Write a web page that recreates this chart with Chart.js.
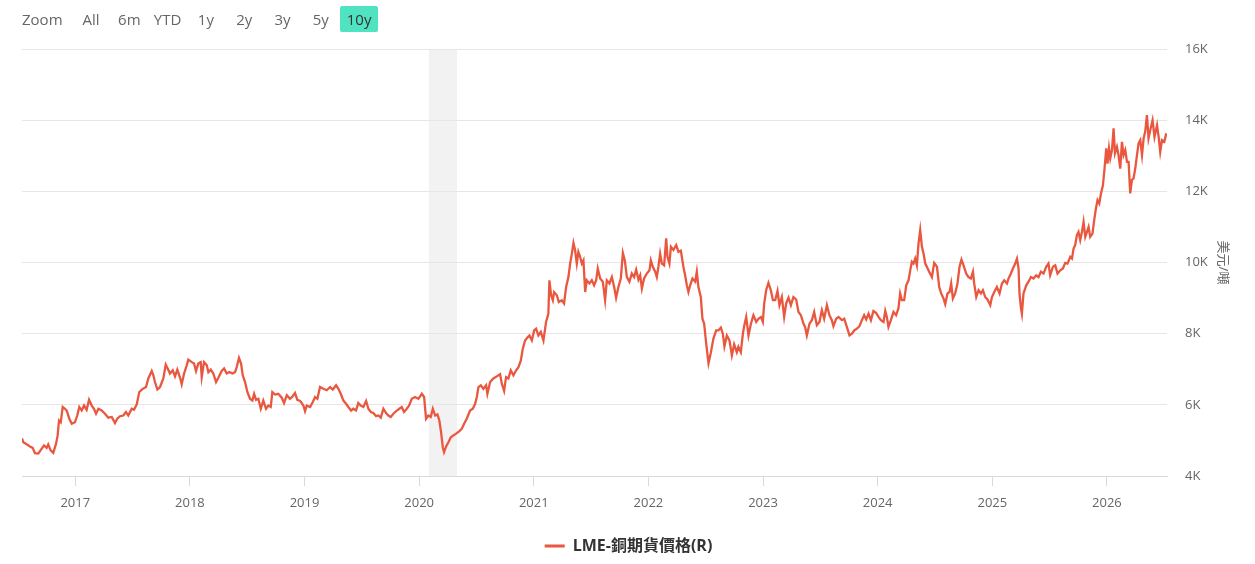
<!DOCTYPE html>
<html lang="zh-Hant">
<head>
<meta charset="utf-8">
<title>LME-銅期貨價格</title>
<script src="https://cdn.jsdelivr.net/npm/chart.js@4.4.1/dist/chart.umd.min.js"></script>
<style>
  html, body { margin: 0; padding: 0; background: #fff; }
  #contenedor { position: relative; width: 1255px; height: 564px; font-family: 'Open Sans', 'Noto Sans CJK TC', sans-serif; }
  #grafica { position: absolute; left: 0; top: 0; width: 1255px; height: 564px; }
  .rango { position: absolute; top: 6px; height: 26px; line-height: 26px; font-size: 15px; color: #666; }
  .boton { width: 38px; text-align: center; border-radius: 2px; cursor: pointer; }
  .boton.activo { background: #4fe3c1; color: #333; }
</style>
</head>
<body>
<div id="contenedor">
  <canvas id="grafica" width="1255" height="564"></canvas>
  <div class="rango" style="left:22px">Zoom</div>
</div>

<script>
// --------------------- DATOS ---------------------
// fecha en años decimales
const fechas = [
  2016.535, 2016.546, 2016.576, 2016.605, 2016.628, 2016.648, 2016.677, 2016.707, 2016.727, 2016.750, 2016.764, 2016.785, 2016.808, 2016.832, 2016.846, 2016.858, 2016.873, 2016.890, 2016.910, 2016.925, 2016.948, 2016.969, 2016.997,
  2017.017, 2017.035, 2017.056, 2017.076, 2017.099, 2017.120, 2017.143, 2017.163, 2017.181, 2017.201, 2017.230, 2017.259, 2017.288, 2017.318, 2017.346, 2017.366, 2017.390, 2017.419, 2017.442, 2017.462, 2017.492, 2017.512, 2017.536, 2017.558, 2017.588, 2017.617, 2017.637, 2017.667, 2017.681, 2017.695, 2017.716, 2017.739, 2017.768, 2017.789, 2017.806, 2017.826, 2017.850, 2017.870, 2017.890, 2017.914, 2017.928, 2017.949, 2017.972, 2017.986,
  2018.016, 2018.036, 2018.053, 2018.073, 2018.094, 2018.103, 2018.123, 2018.147, 2018.161, 2018.182, 2018.204, 2018.228, 2018.248, 2018.277, 2018.298, 2018.321, 2018.344, 2018.373, 2018.394, 2018.408, 2018.428, 2018.446, 2018.461, 2018.481, 2018.501, 2018.524, 2018.545, 2018.560, 2018.577, 2018.597, 2018.618, 2018.640, 2018.664, 2018.684, 2018.705, 2018.719, 2018.743, 2018.771, 2018.801, 2018.821, 2018.845, 2018.873, 2018.897, 2018.917, 2018.937, 2018.961, 2018.990,
  2019.004, 2019.019, 2019.048, 2019.072, 2019.092, 2019.112, 2019.135, 2019.164, 2019.194, 2019.223, 2019.246, 2019.275, 2019.295, 2019.316, 2019.339, 2019.362, 2019.382, 2019.406, 2019.426, 2019.449, 2019.469, 2019.490, 2019.513, 2019.537, 2019.557, 2019.578, 2019.600, 2019.624, 2019.644, 2019.665, 2019.688, 2019.711, 2019.731, 2019.752, 2019.775, 2019.805, 2019.827, 2019.848, 2019.868, 2019.892, 2019.912, 2019.935, 2019.964, 2019.993,
  2020.023, 2020.043, 2020.060, 2020.080, 2020.101, 2020.119, 2020.139, 2020.159, 2020.176, 2020.191, 2020.206, 2020.217, 2020.235, 2020.255, 2020.276, 2020.298, 2020.322, 2020.351, 2020.372, 2020.392, 2020.415, 2020.444, 2020.468, 2020.488, 2020.503, 2020.517, 2020.538, 2020.560, 2020.584, 2020.595, 2020.619, 2020.647, 2020.677, 2020.706, 2020.721, 2020.741, 2020.758, 2020.778, 2020.799, 2020.822, 2020.846, 2020.866, 2020.887, 2020.904, 2020.924, 2020.944, 2020.962, 2020.983,
  2021.003, 2021.020, 2021.040, 2021.061, 2021.084, 2021.107, 2021.127, 2021.136, 2021.151, 2021.166, 2021.177, 2021.201, 2021.218, 2021.244, 2021.264, 2021.282, 2021.302, 2021.317, 2021.332, 2021.346, 2021.360, 2021.375, 2021.389, 2021.404, 2021.419, 2021.433, 2021.448, 2021.462, 2021.485, 2021.506, 2021.526, 2021.544, 2021.558, 2021.579, 2021.602, 2021.622, 2021.637, 2021.660, 2021.681, 2021.701, 2021.718, 2021.738, 2021.759, 2021.777, 2021.794, 2021.812, 2021.834, 2021.855, 2021.875, 2021.893, 2021.913, 2021.928, 2021.943, 2021.962, 2021.986,
  2022.009, 2022.021, 2022.038, 2022.059, 2022.073, 2022.087, 2022.102, 2022.117, 2022.137, 2022.155, 2022.166, 2022.183, 2022.196, 2022.218, 2022.242, 2022.262, 2022.283, 2022.305, 2022.320, 2022.335, 2022.349, 2022.364, 2022.384, 2022.408, 2022.422, 2022.436, 2022.457, 2022.471, 2022.486, 2022.504, 2022.524, 2022.545, 2022.567, 2022.591, 2022.611, 2022.632, 2022.649, 2022.663, 2022.684, 2022.707, 2022.728, 2022.748, 2022.771, 2022.785, 2022.806, 2022.824, 2022.835, 2022.853, 2022.873, 2022.894, 2022.916, 2022.940, 2022.960, 2022.981, 2022.998,
  2023.010, 2023.027, 2023.047, 2023.068, 2023.086, 2023.106, 2023.126, 2023.143, 2023.164, 2023.184, 2023.202, 2023.222, 2023.243, 2023.265, 2023.289, 2023.309, 2023.330, 2023.353, 2023.367, 2023.382, 2023.405, 2023.426, 2023.446, 2023.469, 2023.492, 2023.513, 2023.533, 2023.557, 2023.579, 2023.600, 2023.614, 2023.638, 2023.658, 2023.688, 2023.708, 2023.731, 2023.754, 2023.775, 2023.795, 2023.819, 2023.841, 2023.862, 2023.882, 2023.900, 2023.920, 2023.941, 2023.963, 2023.987,
  2024.007, 2024.028, 2024.051, 2024.066, 2024.080, 2024.094, 2024.115, 2024.138, 2024.161, 2024.181, 2024.196, 2024.211, 2024.231, 2024.249, 2024.269, 2024.284, 2024.298, 2024.312, 2024.327, 2024.342, 2024.356, 2024.371, 2024.386, 2024.400, 2024.415, 2024.429, 2024.449, 2024.473, 2024.493, 2024.517, 2024.537, 2024.554, 2024.574, 2024.589, 2024.609, 2024.627, 2024.641, 2024.656, 2024.676, 2024.696, 2024.714, 2024.731, 2024.749, 2024.772, 2024.792, 2024.813, 2024.831, 2024.842, 2024.860, 2024.880, 2024.901, 2024.918, 2024.938, 2024.958, 2024.982, 2024.997,
  2025.017, 2025.040, 2025.063, 2025.084, 2025.104, 2025.128, 2025.142, 2025.162, 2025.180, 2025.200, 2025.215, 2025.229, 2025.237, 2025.250, 2025.258, 2025.272, 2025.296, 2025.316, 2025.337, 2025.360, 2025.383, 2025.403, 2025.424, 2025.447, 2025.470, 2025.490, 2025.505, 2025.529, 2025.549, 2025.569, 2025.593, 2025.616, 2025.636, 2025.656, 2025.680, 2025.695, 2025.709, 2025.723, 2025.738, 2025.752, 2025.767, 2025.782, 2025.796, 2025.811, 2025.826, 2025.840, 2025.854, 2025.874, 2025.889, 2025.904, 2025.918, 2025.933, 2025.948, 2025.965, 2025.979, 2025.994,
  2026.005, 2026.018, 2026.029, 2026.044, 2026.058, 2026.070, 2026.087, 2026.101, 2026.116, 2026.131, 2026.145, 2026.160, 2026.175, 2026.189, 2026.203, 2026.218, 2026.232, 2026.247, 2026.262, 2026.276, 2026.291, 2026.306, 2026.320, 2026.334, 2026.349, 2026.363, 2026.378, 2026.398, 2026.415, 2026.437, 2026.451, 2026.465, 2026.480, 2026.500, 2026.518
];

// precio en USD por tonelada
const precios = [
  5060, 4950, 4890, 4830, 4790, 4640, 4630, 4770, 4860, 4790, 4890, 4720, 4650, 4910, 5140, 5560, 5510, 5940, 5890, 5840, 5610, 5470, 5510,
  5700, 5940, 5840, 5980, 5860, 6140, 5980, 5890, 5750, 5890, 5840, 5750, 5640, 5660, 5490, 5610, 5680, 5700, 5800, 5700, 5890, 5860, 6010, 6360, 6450, 6500, 6740, 6950, 6830, 6640, 6430, 6500, 6740, 7130, 7020, 6880, 6970, 6800, 6990, 6760, 6580, 6880, 7110, 7270,
  7200, 7160, 6950, 7160, 7200, 6780, 7200, 7110, 6920, 6990, 6880, 6640, 6760, 6950, 7020, 6880, 6920, 6880, 6920, 7060, 7320, 7160, 6830, 6640, 6360, 6170, 6120, 6310, 6140, 6170, 5890, 6120, 5890, 5980, 5940, 6360, 6290, 6310, 6200, 6050, 6270, 6170, 6240, 6330, 6140, 6110, 5980,
  5820, 5980, 5940, 6080, 6220, 6170, 6500, 6450, 6410, 6500, 6430, 6550, 6450, 6310, 6120, 6030, 5940, 5840, 5890, 5840, 6050, 5980, 5940, 6110, 5890, 5800, 5770, 5680, 5700, 5640, 5890, 5770, 5700, 5660, 5750, 5840, 5890, 5940, 5800, 5890, 5980, 6170, 6220, 6170,
  6310, 6220, 5610, 5700, 5660, 5890, 5700, 5730, 5560, 5230, 4810, 4670, 4830, 4950, 5090, 5140, 5190, 5260, 5330, 5470, 5610, 5840, 5890, 6030, 6220, 6500, 6550, 6450, 6550, 6310, 6640, 6740, 6800, 6860, 6590, 6390, 6780, 6740, 6970, 6830, 6970, 7060, 7250, 7580, 7810, 7890, 7950, 7810,
  8090, 8140, 7950, 8050, 7810, 8330, 8560, 9500, 9080, 8940, 9170, 9080, 8890, 8940, 8850, 9310, 9590, 9970, 10250, 10550, 10350, 9970, 10300, 10160, 9970, 10060, 9170, 9500, 9410, 9500, 9360, 9500, 9830, 9550, 9460, 8940, 9500, 9410, 9590, 9310, 9010, 9310, 9550, 10270, 10060, 9590, 9460, 9690, 9590, 9800, 9520, 9640, 9270, 9550, 9690,
  9780, 10060, 9880, 9740, 9590, 9880, 10250, 9970, 9920, 10680, 10160, 9970, 10440, 10350, 10490, 10300, 10330, 9880, 9640, 9360, 9170, 9360, 9550, 9460, 9740, 9310, 9030, 8420, 8280, 7720, 7170, 7480, 7860, 8090, 8090, 8170, 8000, 7640, 7950, 7810, 7390, 7700, 7480, 7630, 7480, 8000, 8210, 8470, 7950, 8280, 8520, 8330, 8420, 8470, 8330,
  8850, 9220, 9430, 9220, 8940, 8940, 9200, 8800, 9030, 8470, 8850, 9010, 8800, 9030, 8960, 8610, 8520, 8280, 8190, 7950, 8280, 8380, 8610, 8240, 8330, 8660, 8420, 8800, 8520, 8380, 8210, 8420, 8470, 8380, 8420, 8190, 7950, 8000, 8090, 8140, 8210, 8380, 8520, 8400, 8560, 8380, 8640, 8580,
  8470, 8380, 8330, 8640, 8470, 8190, 8380, 8610, 8520, 8710, 9130, 8940, 8940, 9360, 9500, 9780, 10020, 9970, 10110, 9920, 10530, 10910, 10440, 10250, 9970, 9880, 9740, 9590, 9990, 9880, 9310, 9130, 8990, 8830, 9130, 9170, 9410, 8990, 9130, 9410, 9880, 10080, 9920, 9690, 9590, 9550, 9740, 9410, 9030, 9220, 9130, 9220, 9030, 8960, 8800, 9030,
  9170, 9310, 9130, 9410, 9500, 9410, 9550, 9690, 9830, 9970, 10110, 9830, 9130, 8710, 8560, 9130, 9360, 9460, 9590, 9550, 9640, 9590, 9740, 9690, 9880, 9970, 9640, 9880, 9920, 9690, 9780, 9830, 9990, 9970, 10160, 10110, 10390, 10490, 10770, 10860, 10630, 10860, 11140, 10720, 10860, 11000, 10720, 10810, 11190, 11520, 11750, 11660, 11940, 12170, 12640, 13210,
  12780, 13210, 12930, 13160, 13770, 13070, 13250, 13020, 12640, 13390, 13020, 13160, 12830, 12830, 11940, 12320, 12360, 12640, 13020, 13350, 13440, 13020, 13490, 13680, 14140, 13490, 13720, 14000, 13530, 13860, 13530, 13110, 13440, 13390, 13630
];

// ejes
const aniosEje = [2017, 2018, 2019, 2020, 2021, 2022, 2023, 2024, 2025, 2026];
const ticksPrecio = [4000, 6000, 8000, 10000, 12000, 14000, 16000];
const rangoFechas = [2016.535, 2026.524];

// franja gris (recesion feb-abr 2020)
const recesion = [2020.085, 2020.33];

// botones de rango de arriba
const botonesRango = ['All', '6m', 'YTD', '1y', '2y', '3y', '5y', '10y'];
const botonActivo = '10y';

const colorSerie = '#e9573f';
const nombreSerie = 'LME-銅期貨價格(R)';
const unidad = '美元/噸';



// --------------------- BOTONES ---------------------
const contenedor = document.getElementById('contenedor');
botonesRango.forEach((txt, i) => {
  const b = document.createElement('div');
  b.className = 'rango boton' + (txt === botonActivo ? ' activo' : '');
  b.style.left = (72 + i * 38.3) + 'px';
  b.textContent = txt;
  contenedor.appendChild(b);
});



// --------------------- FRANJA DE RECESION ---------------------
const franjaRecesion = {
  id: 'franjaRecesion',
  beforeDraw(chart) {
    const { ctx, chartArea, scales } = chart;
    const x1 = scales.x.getPixelForValue(recesion[0]);
    const x2 = scales.x.getPixelForValue(recesion[1]);
    ctx.save();
    ctx.fillStyle = '#f2f2f2';
    ctx.fillRect(x1, chartArea.top, x2 - x1, chartArea.bottom - chartArea.top);
    ctx.restore();
  }
};



// --------------------- GRAFICA ---------------------
Chart.defaults.font.family = "'Open Sans', 'Noto Sans CJK TC', sans-serif";

const puntos = fechas.map((f, i) => ({ x: f, y: precios[i] }));

new Chart(document.getElementById('grafica'), {
  type: 'line',
  data: {
    datasets: [{
      label: nombreSerie,
      data: puntos,
      borderColor: colorSerie,
      backgroundColor: colorSerie,
      borderWidth: 2.3,
      pointRadius: 0,
      tension: 0
    }]
  },
  options: {
    responsive: false,
    animation: false,
    layout: { padding: { left: 22, right: 20, top: 49, bottom: 0 } },
    plugins: {
      legend: {
        position: 'bottom',
        labels: {
          boxWidth: 20,
          boxHeight: 3,
          padding: 10,
          color: '#333',
          font: { size: 16, weight: 'bold' },
          // sin borde en la muestra, solo la linea
          generateLabels: (chart) => Chart.defaults.plugins.legend.labels.generateLabels(chart)
            .map(l => ({ ...l, lineWidth: 0 }))
        }
      },
      tooltip: { enabled: false }
    },
    scales: {
      x: {
        type: 'linear',
        min: rangoFechas[0],
        max: rangoFechas[1],
        afterBuildTicks: (s) => { s.ticks = aniosEje.map(v => ({ value: v })); },
        afterFit: (s) => { s.height = 52; },
        ticks: {
          callback: (v) => String(v),
          color: '#666',
          font: { size: 13 },
          padding: 9,
          maxRotation: 0,
          autoSkip: false
        },
        grid: { drawOnChartArea: false, color: '#d9d9d9', tickLength: 10 },
        border: { color: '#d9d9d9' }
      },
      y: {
        position: 'right',
        min: 4000,
        max: 16000,
        afterBuildTicks: (s) => { s.ticks = ticksPrecio.map(v => ({ value: v })); },
        afterFit: (s) => { s.width = 68; },
        ticks: {
          callback: (v) => (v / 1000) + 'K',
          color: '#666',
          font: { size: 13 },
          padding: 18
        },
        grid: { color: '#e6e6e6', drawTicks: false },
        border: { display: false },
        title: {
          display: true,
          text: unidad,
          color: '#666',
          font: { size: 13 },
          padding: { top: 4, bottom: 0 }
        }
      }
    }
  },
  plugins: [franjaRecesion]
});
</script>
</body>
</html>
